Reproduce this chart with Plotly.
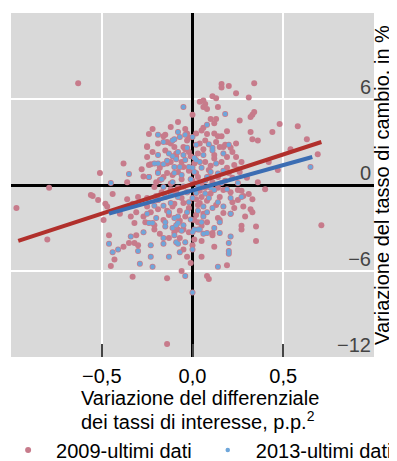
import plotly.graph_objects as go

# ---- data: observations only in 2009 sample (x = change in rate differential, y = FX change %)
x_2009_only = [-0.63, -0.97, -0.79, -0.80, -0.51, -0.55, -0.52, -0.48, -0.47, -0.49, -0.44, -0.36,
               -0.46, -0.43, -0.45, -0.38, -0.35, -0.32, -0.31, -0.30, -0.33, -0.14, -0.14, -0.05,
               -0.03, -0.01, -0.21, -0.26, -0.21, -0.32, -0.34, -0.31, -0.33, -0.30, -0.25, -0.25,
               -0.19, -0.16, -0.10, -0.05, 0.01, -0.56, -0.08, -0.02, -0.07, -0.27, -0.23,
               0.16, 0.16, 0.20, 0.34, 0.24, 0.11, 0.13, 0.31, 0.04, 0.06, 0.07, 0.06, 0.08, 0.14,
               0.00, 0.34, 0.33, 0.32, 0.13, 0.26, 0.12, 0.06, 0.05, 0.48, 0.58, 0.44, 0.32, 0.19,
               0.12, 0.14, 0.02, 0.33, 0.08, 0.16,
               -0.22, -0.24, -0.12, -0.16, -0.04, -0.25, -0.22, -0.25, -0.27, -0.24, -0.15, -0.03,
               0.63, 0.69, 0.54, 0.47, 0.36, 0.27, 0.26, 0.24, 0.21, 0.71, 0.36, 0.28, 0.27, 0.31,
               0.33, 0.32, 0.33, 0.21, 0.35, 0.35, 0.27, 0.27, 0.19, 0.08, 0.09, 0.11, 0.17, 0.14,
               0.25, 0.22, 0.20, 0.23, 0.19, 0.22, 0.17, 0.03, 0.05, 0.11, 0.15, 0.01,
               0.04, 0.13, 0.15, 0.18, 0.12, 0.03, 0.07, 0.16, 0.19, 0.09, 0.03, 0.14, 0.11, 0.07,
               0.17, 0.21, 0.05, 0.15, 0.25, 0.03, 0.13, 0.23, 0.28,
               -0.25, -0.19, -0.14, -0.23, -0.24, -0.21, -0.18, -0.12, -0.09, -0.05, -0.14, -0.18,
               -0.20, -0.19, -0.14, -0.11, -0.05, -0.08,
               -0.10, -0.03, -0.09, -0.02, -0.14, -0.05, 0.02, -0.11, -0.19, -0.16,
               -0.02, 0.01, -0.06, 0.05, -0.03, 0.02, -0.07, 0.06, -0.01, 0.09, -0.09, 0.08,
               -0.04, 0.00, 0.04, -0.12, 0.10, -0.06, 0.06, -0.02,
               -0.12, -0.06, 0.04, -0.13, 0.08, -0.17, 0.12, -0.08, 0.10, -0.04, 0.02, -0.10,
               0.14, -0.15, 0.07, -0.07, 0.18, -0.20, 0.25, -0.28, 0.30, -0.13, 0.05, -0.02,
               0.10, -0.08, 0.22, 0.29, -0.36, -0.40, 0.40, 0.42, -0.38, 0.00, -0.06, 0.05,
               0.12, -0.18, 0.24, -0.12]
y_2009_only = [7.1, -1.6, -0.2, -3.8, 0.84, -0.77, -1.05, -1.3, -1.5, -2.45, -0.63, 0.2,
               -3.5, -5.2, -5.65, -4.3, -4.05, -4.05, -3.5, -4.2, -6.4, -6.5, -11.1, -4.5,
               -5.0, -5.45, -3.1, -2.6, -2.8, -2.65, -2.2, -1.9, -1.3, -0.84, -0.9, -1.5,
               -1.7, -2.45, -3.3, -3.1, -2.45, -0.7, -3.1, -3.3, -3.7, -2.2, -1.9,
               7.05, 6.8, 6.9, 7.1, 6.4, 6.2, 6.05, 6.1, 5.8, 5.9, 5.65, 5.45, 5.3, 5.45,
               4.9, 5.1, 4.9, 4.75, 4.6, 4.5, 4.3, 4.0, 3.8, 4.25, 4.1, 3.7, 3.7, 3.75,
               3.6, 3.4, 3.6, 3.2, 3.55, 3.4,
               3.9, 3.55, 4.05, 3.4, 3.9, 2.65, 2.3, 1.95, 0.6, 1.4, 3.5, 3.6,
               3.2, 2.15, 2.5, 1.05, 3.1, 1.6, 0.9, 1.95, 2.6, -2.8, 0.2, -0.77, -0.4, -0.63,
               -1.0, -1.7, -1.9, -2.0, -2.9, -3.9, -2.85, -3.1, -5.6, -6.35, -6.55, -3.35, -1.95, -2.3,
               -0.35, 0.5, 0.84, 1.4, 1.95, 2.3, 2.65, -2.6, -2.85, -3.5, -2.45, -3.8,
               2.9, 3.0, 2.65, 2.8, 2.1, 2.2, 1.6, 1.6, 1.2, 1.05, 0.56, 0.56, 0.2, -0.2,
               -0.35, -0.5, -0.84, -0.84, -1.05, -1.4, -1.4, -1.6, -1.5,
               2.7, 2.9, 3.0, 1.45, 0.56, -0.14, 1.2, 1.6, 2.2, 2.65, 0.84, 0.35,
               -0.77, -1.05, -1.8, -1.5, -1.25, -0.2,
               2.65, 3.1, 1.95, 2.3, 1.5, 1.25, 0.84, 0.7, 0.9, 0.56,
               1.0, 1.5, 0.4, 0.1, -0.5, -1.0, -1.8, -2.0, 2.0, 0.6, -0.5, -1.1,
               -2.2, 0.3, -0.4, 0.1, -0.6, 1.6, 2.5, -1.6,
               -0.3, -0.9, -1.25, -2.1, -2.6, -0.5, 1.85, 0.9, 1.35, 2.5, -2.1, -1.3,
               -0.2, 2.4, 3.1, -2.5, 0.3, 0.2, 1.1, 1.1, 0.5, -3.7, -3.9, 3.3,
               4.6, 4.4, -1.2, -2.2, -1.0, -2.0, -0.3, 1.6, 1.5, -4.2, -6.0, -5.0,
               -4.3, -3.4, 2.9, 2.9]

# ---- data: observations of the 2013 sample (also part of the 2009 sample)
x_2013 = [-0.05, -0.19, -0.08, -0.16, -0.11, -0.19, -0.35, -0.45, -0.46, -0.44, -0.41, -0.34,
          -0.30, -0.29, -0.23, -0.22, -0.04, 0.00, -0.16, -0.16, -0.13, -0.09, -0.07, -0.04,
          -0.15, -0.27, -0.24, -0.25, -0.19, -0.21, -0.10, 0.00, -0.03, -0.08, -0.23, -0.22,
          -0.15, -0.11, -0.10, -0.08, -0.09, -0.05,
          -0.04, -0.07, -0.10, 0.18, 0.08, 0.00, 0.65, 0.20,
          0.21, 0.20, 0.20, 0.20, 0.14, 0.00, 0.15, 0.12, 0.08, 0.01, 0.03, 0.04, 0.06,
          0.21, 0.14, 0.11, 0.06, 0.27, 0.25, 0.02, 0.09, 0.11, 0.17, 0.06, 0.02, 0.13, 0.17,
          0.05, 0.01, 0.08, 0.16, 0.03, 0.12, 0.02, 0.09, 0.21, 0.06, 0.17,
          -0.21, -0.16, -0.16, -0.14, -0.11, -0.08, -0.04, -0.07, -0.10, -0.19, -0.11, -0.15,
          -0.16, -0.12, -0.08, -0.03, -0.08,
          -0.13, -0.05, 0.01, -0.10, -0.02, -0.19, -0.24,
          -0.01, 0.04, -0.05, 0.07, -0.02, 0.03, 0.00,
          0.10, -0.06, 0.04, -0.12, 0.08, -0.03, 0.14, -0.17, 0.05, -0.06, 0.11, -0.09,
          0.19, -0.20, 0.00, 0.07, -0.13, 0.15, -0.01, 0.10]
y_2013 = [5.45, 3.5, 3.7, 3.0, 3.1, 2.1, 0.77, 0.14, -4.1, -4.7, -4.5, -3.6,
          -4.6, -5.5, -5.0, -5.7, -6.35, -7.5, -3.7, -4.1, -5.0, -4.0, -4.7, -4.0,
          -2.9, -3.3, -2.65, -2.0, -1.05, -1.45, -2.3, -3.3, -1.9, -2.65, -4.2, -2.65,
          -2.6, -3.0, -3.5, -4.1, -2.8, -2.8,
          3.5, 3.35, 3.2, 4.95, 4.2, 3.35, 1.25, 2.8,
          -3.6, -4.05, -4.6, -4.8, -5.7, -4.5, -3.35, -3.0, -3.35, -3.1, -3.1, -3.1, -3.4,
          -2.0, -1.2, -1.6, -2.2, -0.84, 0.14, 2.8, 2.85, 2.6, 2.2, 2.1, 1.75, 1.5, 1.0,
          1.2, 0.9, 0.56, 0.14, 0.0, -0.35, -0.56, -0.9, -0.9, -1.5, -1.5,
          1.5, -0.14, 1.45, 1.7, 2.0, 2.3, 1.75, 1.25, 0.84, 0.84, 0.2, -0.84,
          -1.45, -1.25, -0.84, -0.5, -2.2,
          2.2, 2.1, 1.9, 1.25, 1.25, 1.5, 0.56,
          0.4, -0.2, -0.1, 0.3, -1.2, -1.8, 1.2,
          -0.2, 0.7, 1.6, -0.6, -1.9, 2.6, 0.8, 0.4, -2.6, -3.2, 2.4, 1.8,
          -0.3, -2.3, -0.9, -0.6, -1.9, -2.6, -2.4, 0.9]

# ---- fitted regression lines (endpoints)
fit_2009_x = [-0.96, 0.71]
fit_2009_y = [-3.9, 3.0]
fit_2013_x = [-0.46, 0.66]
fit_2013_y = [-2.0, 1.95]

x_tickvals = [-0.5, 0.0, 0.5]
x_ticktext = ["\u22120,5", "0,0", "0,5"]
x_edge_ticks = [-1.0, 1.0]
y_tickvals = [-12, -6, 0, 6]
y_ticktext = ["\u221212", "\u22126", "0", "6"]

series_names = ["2009-ultimi dati", "2013-ultimi dati"]

PINK = "#c77b8b"
BLUE = "#6ea6da"
RED_LINE = "#b1302c"
BLUE_LINE = "#3b6db3"
FONT = "Liberation Sans, Arial, sans-serif"

# the 2009 sample contains the 2013 observations as well
x_2009 = x_2009_only + x_2013
y_2009 = y_2009_only + y_2013

fig = go.Figure()
fig.add_trace(go.Scatter(x=x_2009, y=y_2009, mode="markers", name=series_names[0],
                         legend="legend",
                         marker=dict(color=PINK, size=6, line=dict(width=0))))
fig.add_trace(go.Scatter(x=x_2013, y=y_2013, mode="markers", name=series_names[1],
                         legend="legend2",
                         marker=dict(color=BLUE, size=4.5, line=dict(width=0))))
fig.add_trace(go.Scatter(x=fit_2009_x, y=fit_2009_y, mode="lines", showlegend=False,
                         line=dict(color=RED_LINE, width=4)))
fig.add_trace(go.Scatter(x=fit_2013_x, y=fit_2013_y, mode="lines", showlegend=False,
                         line=dict(color=BLUE_LINE, width=4)))

legend_common = dict(orientation="h", xanchor="left", y=-0.27, yanchor="middle",
                     font=dict(size=20), itemwidth=46, bgcolor="rgba(0,0,0,0)")

# page body has an 8px margin, so the figure is sized to the remaining window area
fig.update_layout(
    width=389, height=453,
    margin=dict(l=3, r=23, t=5, b=104, autoexpand=False),
    paper_bgcolor="white", plot_bgcolor="#d9d9d9",
    font=dict(family=FONT, size=20, color="black"),
    showlegend=True,
    legend=dict(x=-0.03, **legend_common),
    legend2=dict(x=0.52, **legend_common),
    xaxis=dict(range=[-1, 1], tickvals=x_tickvals, ticktext=x_ticktext,
               ticks="inside", ticklen=13, tickwidth=1.5, tickcolor="#444444",
               minor=dict(tickvals=x_edge_ticks, ticks="inside", ticklen=13, tickwidth=1.5,
                          tickcolor="#444444", showgrid=False),
               showgrid=True, gridcolor="white", gridwidth=1.5,
               zeroline=True, zerolinecolor="black", zerolinewidth=2.5,
               showline=False, tickfont=dict(size=20), automargin=False,
               ticklabelstandoff=5),
    yaxis=dict(range=[-12, 12], tickvals=y_tickvals, ticktext=y_ticktext,
               side="right", ticks="", ticklabelposition="inside", ticklabelshift=-12,
               showgrid=True, gridcolor="white", gridwidth=1.5,
               zeroline=True, zerolinecolor="black", zerolinewidth=2.5,
               showline=False, tickfont=dict(size=20), automargin=False,
               title=dict(text="Variazione del tasso di cambio, in %", font=dict(size=20),
                          standoff=4)),
)

fig.add_annotation(xref="paper", yref="paper", x=0.188, y=-0.119, xanchor="left",
                   yanchor="middle", showarrow=False, align="left",
                   text="Variazione del differenziale", font=dict(size=20))
fig.add_annotation(xref="paper", yref="paper", x=0.188, y=-0.186, xanchor="left",
                   yanchor="middle", showarrow=False, align="left",
                   text="dei tassi di interesse, p.p.<sup>2</sup>", font=dict(size=20))

fig.write_html("out.html")
